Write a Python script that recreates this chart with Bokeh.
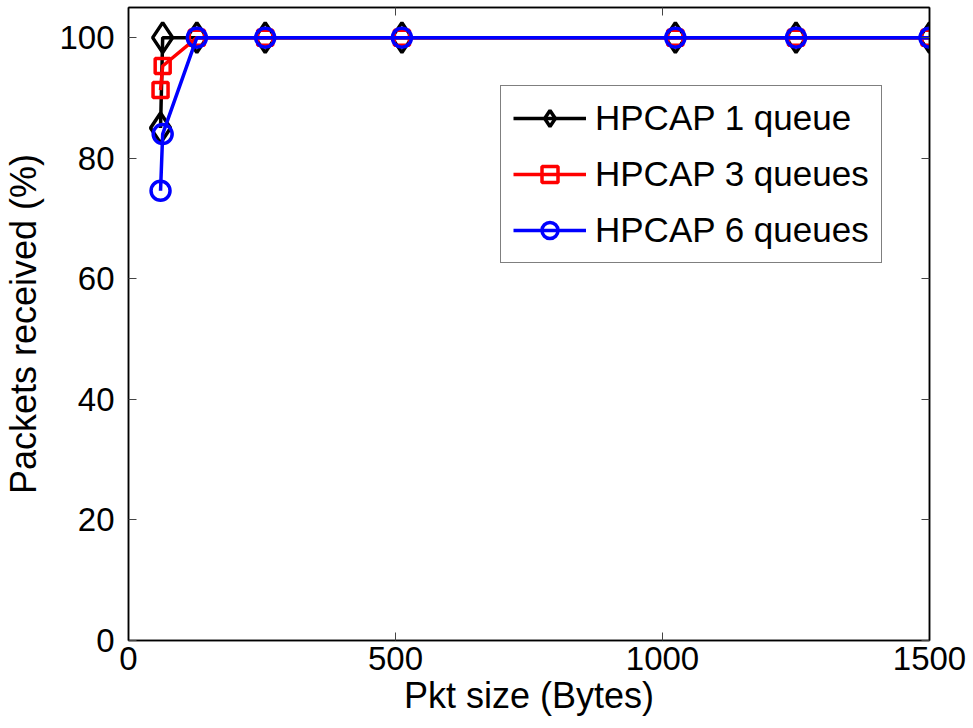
from bokeh.plotting import figure
from bokeh.models import Legend, LegendItem, LinearAxis, FixedTicker, Range1d
from bokeh.embed import file_html
from bokeh.resources import INLINE

# Data
pkt_size = [60, 64, 128, 256, 512, 1024, 1250, 1500]
hpcap_1q = [85, 100, 100, 100, 100, 100, 100, 100]
hpcap_3q = [91.3, 95.3, 100, 100, 100, 100, 100, 100]
hpcap_6q = [74.6, 84.0, 100, 100, 100, 100, 100, 100]
series_labels = ["HPCAP 1 queue", "HPCAP 3 queues", "HPCAP 6 queues"]
x_ticks = [0, 500, 1000, 1500]
y_ticks = [0, 20, 40, 60, 80, 100]

FONT = "Liberation Sans"

p = figure(width=973, height=728, output_backend="svg", toolbar_location=None,
           x_range=Range1d(0, 1500), y_range=Range1d(0, 105),
           min_border_left=126, min_border_right=44, min_border_top=7,
           min_border_bottom=88)
p.grid.visible = False
p.outline_line_color = "black"
p.outline_line_width = 1.5
p.background_fill_color = "white"

def style_axis(ax, show_labels=True):
    ax.axis_line_color = "black"
    ax.axis_line_width = 1.5
    ax.major_tick_in = 8
    ax.major_tick_out = 0
    ax.major_tick_line_color = "#444444"
    ax.major_tick_line_width = 1
    ax.minor_tick_line_color = None
    ax.major_label_text_font = FONT
    ax.major_label_text_color = "black"
    if show_labels:
        ax.major_label_text_font_size = "33px"
    else:
        ax.major_label_text_font_size = "0px"
        ax.major_label_standoff = 0

xa = p.xaxis[0]
ya = p.yaxis[0]
xa.ticker = FixedTicker(ticks=x_ticks)
ya.ticker = FixedTicker(ticks=y_ticks)
style_axis(xa)
style_axis(ya)
xa.axis_label = "Pkt size (Bytes)"
ya.axis_label = "Packets received (%)"
for ax in (xa, ya):
    ax.axis_label_text_font = FONT
    ax.axis_label_text_font_size = "36px"
    ax.axis_label_text_font_style = "normal"
    ax.axis_label_text_color = "black"
xa.major_label_standoff = 6
xa.axis_label_standoff = 2
ya.major_label_standoff = 14
ya.axis_label_standoff = 12

top_ax = LinearAxis(ticker=FixedTicker(ticks=x_ticks))
right_ax = LinearAxis(ticker=FixedTicker(ticks=y_ticks))
style_axis(top_ax, False)
style_axis(right_ax, False)
p.add_layout(top_ax, "above")
p.add_layout(right_ax, "right")

lw = 3.5
l1 = p.line(pkt_size, hpcap_1q, line_color="black", line_width=lw)
m1 = p.scatter(pkt_size, hpcap_1q, marker="diamond", size=30, fill_color=None,
               line_color="black", line_width=lw)
l2 = p.line(pkt_size, hpcap_3q, line_color="red", line_width=lw)
m2 = p.scatter(pkt_size, hpcap_3q, marker="square", size=15, fill_color=None,
               line_color="red", line_width=lw)
l3 = p.line(pkt_size, hpcap_6q, line_color="blue", line_width=lw)
m3 = p.scatter(pkt_size, hpcap_6q, marker="circle", size=19, fill_color=None,
               line_color="blue", line_width=lw)

legend = Legend(items=[
    LegendItem(label=series_labels[0], renderers=[l1, m1]),
    LegendItem(label=series_labels[1], renderers=[l2, m2]),
    LegendItem(label=series_labels[2], renderers=[l3, m3]),
], location=(372, 377))
legend.label_text_font = FONT
legend.label_text_font_size = "35px"
legend.label_text_color = "black"
legend.glyph_width = 73
legend.glyph_height = 40
legend.label_height = 40
legend.label_standoff = 9
legend.spacing = 16
legend.padding = 12
legend.margin = 0
legend.border_line_color = "black"
legend.border_line_width = 1.5
legend.background_fill_color = "white"
legend.background_fill_alpha = 1
p.add_layout(legend)

open("out.html", "w").write(file_html(p, INLINE))
